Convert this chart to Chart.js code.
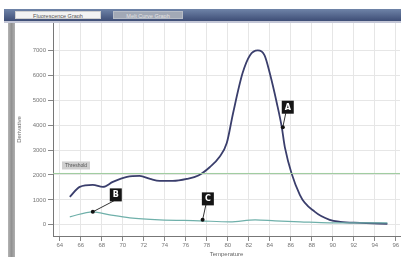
<!DOCTYPE html>
<html><head><meta charset="utf-8">
<script src="https://cdn.jsdelivr.net/npm/chart.js@4/dist/chart.umd.min.js"></script>
<style>
html,body{margin:0;padding:0;background:#fff;width:401px;height:259px;overflow:hidden;font-family:"Liberation Sans",Arial,sans-serif}
#wrap{position:absolute;left:0;top:0;width:401px;height:259px}
.band{position:absolute;left:4px;top:9px;width:397px;height:12px;background:linear-gradient(#6f84a8,#3e4e76)}
.strip{position:absolute;left:4px;top:21px;width:397px;height:2px;background:#c3c6d6}
.tab{position:absolute;top:11px;height:8px;font-size:5.5px;line-height:8px;text-align:center;white-space:nowrap;overflow:hidden}
.t1{left:15px;width:86px;background:#f3f3f3;color:#555;border:1px solid #d0d0d0;box-sizing:border-box}
.t2{left:113px;width:70px;background:#a2a9b6;color:#e2e2e2;border:1px solid #b6bcc6;box-sizing:border-box}
.side{position:absolute;left:8px;top:23px;width:7px;height:234px;background:linear-gradient(90deg,#b4b4b4,#929292,#b0b0b0)}
</style></head>
<body>
<div id="wrap"><canvas id="c" width="401" height="259"></canvas></div>
<div class="band"></div><div class="strip"></div>
<div class="tab t1">Fluorescence Graph</div>
<div class="tab t2">Melt Curve Graph</div>
<div class="side"></div>
<script>
// ---- data ----
const xTicks = [64,66,68,70,72,74,76,78,80,82,84,86,88,90,92,94,96];
const yTicks = [0,1000,2000,3000,4000,5000,6000,7000];
const tempA = [64.95,65.9,67.14,68.1,69.05,70.4,71.6,72.6,73.5,74.76,76.1,77.2,78.3,79.2,79.9,80.5,81.4,82.1,82.86,83.5,84.0,84.67,85.14,85.43,86.86,88.3,89.7,90.7,92.6,95.2];
const valA  = [1120,1520,1600,1520,1720,1920,1960,1840,1760,1760,1840,1980,2320,2720,3280,4480,6080,6800,7000,6800,6080,4880,3920,3120,1200,520,200,120,80,40];
const tempB = [64.95,67.14,68.76,70.67,73.5,77.3,80.2,82.6,84.5,86.9,89.7,92.6,95.2];
const valB  = [320,520,400,280,200,160,120,200,160,120,80,80,80];
const thresholdValue = 2060;
const thresholdLabel = "Threshold";
const noteLabels = ["A","B","C"];
const noteDotTemp = [85.24,67.14,77.6];
const noteDotVal  = [3920,520,200];
const noteBoxTemp = [85.71,69.33,78.1];
const noteBoxVal  = [4720,1200,1040];
const xMin = 63.35, xMax = 96.4, yMin = -450, yMax = 8100;

const ptsA = tempA.map((t,i)=>({x:t,y:valA[i]}));
const ptsB = tempB.map((t,i)=>({x:t,y:valB[i]}));

const notes = {
  id:'notes',
  afterDatasetsDraw(chart){
    const ctx = chart.ctx, xs = chart.scales.x, ys = chart.scales.y;
    const tl = xs.left + 9, ty = ys.getPixelForValue(thresholdValue);
    ctx.save();
    ctx.fillStyle = '#cfcfcf';
    ctx.fillRect(tl, ty-12, 28, 8);
    ctx.fillStyle = '#555';
    ctx.font = '5px "Liberation Sans"';
    ctx.textAlign='center'; ctx.textBaseline='middle';
    ctx.fillText(thresholdLabel, tl+14, ty-8);
    for(let i=0;i<noteLabels.length;i++){
      const dx = xs.getPixelForValue(noteDotTemp[i]), dy = ys.getPixelForValue(noteDotVal[i]);
      const bx = xs.getPixelForValue(noteBoxTemp[i]), by = ys.getPixelForValue(noteBoxVal[i]);
      ctx.strokeStyle = '#333'; ctx.lineWidth = 1;
      ctx.beginPath(); ctx.moveTo(bx-2, by+6); ctx.lineTo(dx, dy); ctx.stroke();
      ctx.fillStyle = '#111';
      ctx.beginPath(); ctx.arc(dx, dy, 2, 0, Math.PI*2); ctx.fill();
      ctx.fillStyle = '#151515';
      ctx.fillRect(bx-6, by-6.5, 12, 13);
      ctx.fillStyle = '#fff';
      ctx.font = 'bold 8px "DejaVu Sans"';
      ctx.fillText(noteLabels[i], bx, by+0.5);
    }
    ctx.restore();
  }
};

new Chart(document.getElementById('c'), {
  type:'line',
  data:{datasets:[
    {data:[{x:xMin,y:thresholdValue},{x:xMax,y:thresholdValue}], borderColor:'#9fcc9f', borderWidth:1, pointRadius:0, tension:0},
    {data:ptsB, borderColor:'#6fb0aa', borderWidth:1.2, pointRadius:0, tension:0.4, cubicInterpolationMode:'monotone'},
    {data:ptsA, borderColor:'#3a3e6c', borderWidth:1.8, pointRadius:0, tension:0.4, cubicInterpolationMode:'monotone'}
  ]},
  options:{
    responsive:false, animation:false, devicePixelRatio:1,
    layout:{padding:{left:16,top:23,right:1,bottom:0}},
    plugins:{legend:{display:false}, tooltip:{enabled:false}},
    scales:{
      x:{type:'linear', min:xMin, max:xMax,
        afterBuildTicks(s){ s.ticks = xTicks.map(v=>({value:v})); },
        afterFit(s){ s.height = 23; },
        grid:{color:'#e6e6e6', tickLength:5, tickColor:'#888'},
        border:{color:'#777'},
        ticks:{font:{size:6}, color:'#777', padding:1, maxRotation:0, autoSkip:false, callback:v=>String(v)},
        title:{display:true, text:'Temperature', font:{size:6}, color:'#666', padding:{top:0,bottom:1}}
      },
      y:{min:yMin, max:yMax,
        afterBuildTicks(s){ s.ticks = yTicks.map(v=>({value:v})); },
        afterFit(s){ s.width = 37; },
        grid:{color:'#e6e6e6', tickLength:5, tickColor:'#888'},
        border:{color:'#777'},
        ticks:{font:{size:6}, color:'#777', padding:2, callback:v=>String(v)},
        title:{display:true, text:'Derivative', font:{size:6}, color:'#666', padding:{top:0,bottom:0}}
      }
    }
  },
  plugins:[notes]
});
</script>
</body></html>
